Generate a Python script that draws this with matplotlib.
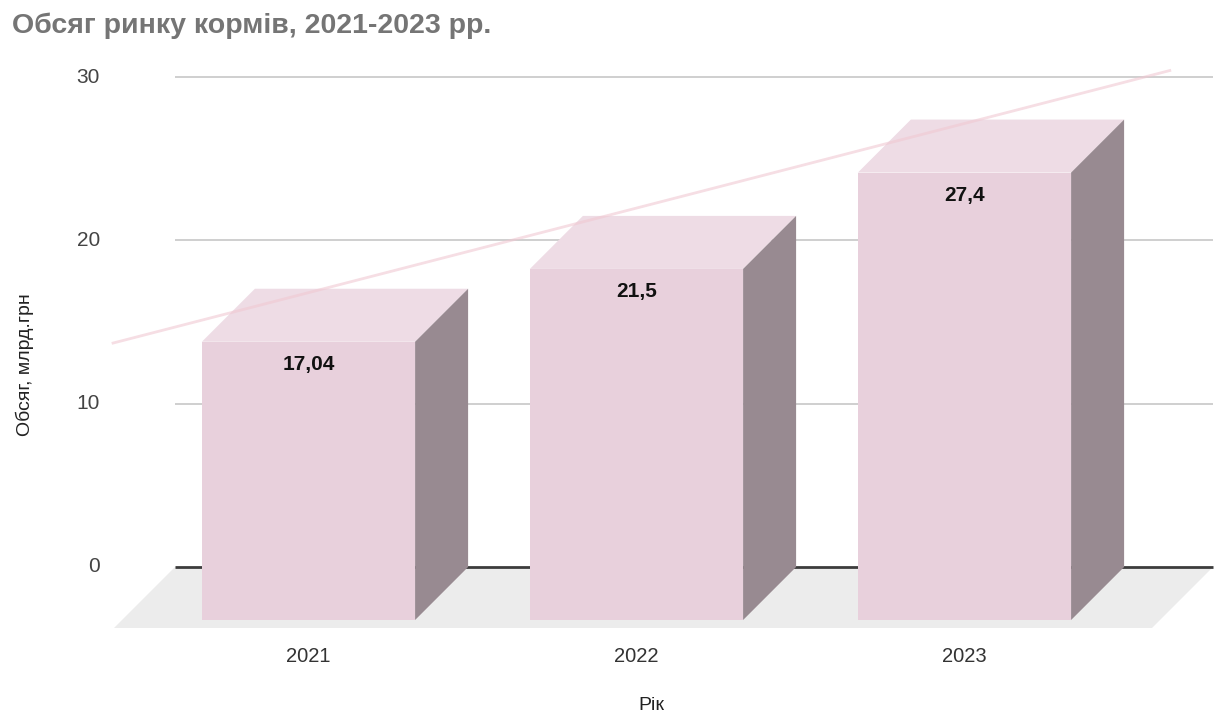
import numpy as np
import matplotlib.pyplot as plt
from matplotlib.patches import Polygon, Rectangle

years = ['2021', '2022', '2023']
volumes = [17.04, 21.5, 27.4]
value_labels = ['17,04', '21,5', '27,4']
y_ticks = [0, 10, 20, 30]

plt.rcParams['font.family'] = ['Liberation Sans', 'DejaVu Sans']

W, H = 1222, 720
fig = plt.figure(figsize=(W / 100, H / 100), dpi=100)
ax = fig.add_axes([0, 0, 1, 1])

# scale: one category = 328 px, one unit of value = 16.33 px, y=0 sits 567 px from top
px_x, px_y = 328.0, 16.33
x0_px, y0_px = 308.5, 567.0
ax.set_xlim(-x0_px / px_x, (W - x0_px) / px_x)
ax.set_ylim(-(H - y0_px) / px_y, y0_px / px_y)
ax.axis('off')

front_c = '#e8d0dc'
top_c = '#eedce5'
side_c = '#988a91'
floor_c = '#ececec'

w = 0.65                         # width of the front face
dx, dy = 53 / px_x, 53 / px_y    # box depth
fdx, fdy = 61 / px_x, 61 / px_y  # floor depth
gx0, gx1 = (175 - x0_px) / px_x, (1213 - x0_px) / px_x

# floor
ax.add_patch(Polygon([(gx0, 0), (gx1, 0), (gx1 - fdx, -fdy), (gx0 - fdx, -fdy)],
                     closed=True, facecolor=floor_c, edgecolor='none', zorder=1))

# gridlines on the back wall
ax.hlines(y_ticks[1:], gx0, gx1, color='#cccccc', lw=1.3, zorder=2)
ax.hlines(0, gx0, gx1, color='#3c3c3c', lw=2, zorder=2)
for t in y_ticks:
    ax.text((100 - x0_px) / px_x, t, str(t), ha='right', va='center',
            fontsize=15, color='#444444')

x = np.arange(len(years))
for i, v in zip(x, volumes):
    l, r = i - w / 2, i + w / 2
    ax.add_patch(Rectangle((l, -dy), w, v, facecolor=front_c, edgecolor='none', zorder=3))
    ax.add_patch(Polygon([(l, v - dy), (r, v - dy), (r + dx, v), (l + dx, v)],
                         closed=True, facecolor=top_c, edgecolor='none', zorder=3))
    ax.add_patch(Polygon([(r, -dy), (r + dx, 0), (r + dx, v), (r, v - dy)],
                         closed=True, facecolor=side_c, edgecolor='none', zorder=3))

for i, v, lab in zip(x, volumes, value_labels):
    ax.text(i, v - dy - 1.4, lab, ha='center', va='center', fontsize=15,
            fontweight='bold', color='#111111', zorder=5)

# linear trend
coef = np.polyfit(x, volumes, 1)
xs = np.array([-0.6, 2.63])
ax.plot(xs, np.polyval(coef, xs), color='#f0c8d2', lw=2.0, alpha=0.6,
        solid_capstyle='butt', zorder=4)

for i, yr in zip(x, years):
    ax.text(i, -(657 - y0_px) / px_y, yr, ha='center', va='center',
            fontsize=14.5, color='#333333')

fig.text(12 / W, 1 - 33 / H, 'Обсяг ринку кормів, 2021-2023 рр.', ha='left', va='baseline',
         fontsize=20.5, fontweight='bold', color='#757575')
fig.text(25 / W, 1 - 365 / H, 'Обсяг, млрд.грн', rotation=90, ha='center', va='center',
         fontsize=14, color='#222222')
fig.text(651 / W, 1 - 705 / H, 'Рік', ha='center', va='center',
         fontsize=14, color='#222222')

fig.savefig('out.png', dpi=100, facecolor='white')
